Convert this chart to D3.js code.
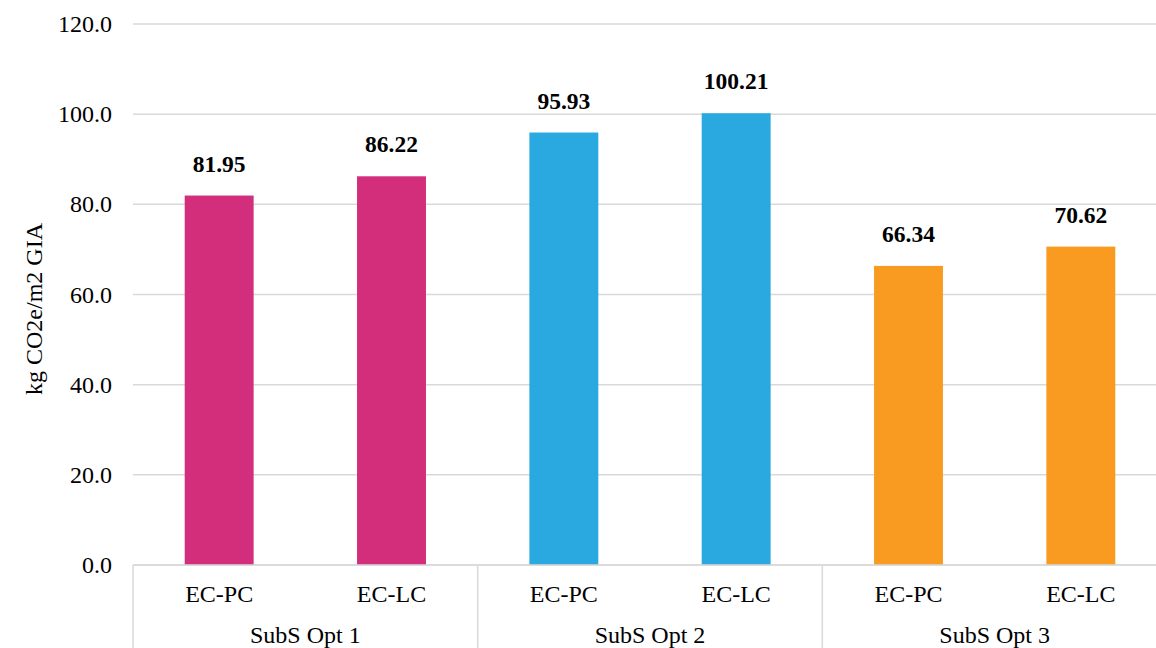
<!DOCTYPE html>
<html>
<head>
    <script src="https://cdnjs.cloudflare.com/ajax/libs/d3/7.8.5/d3.min.js"></script>
    <style>
        body { margin: 0; background: #fff; }
        svg text { font-family: 'Liberation Serif', 'Times New Roman', serif; fill: #000; }
        .grid line { stroke: #d9d9d9; stroke-width: 1.5px; }
        .val { font-weight: bold; }
    </style>
</head>
<body>
    <div id="chart"></div>
    <script>
        const groups = ["SubS Opt 1", "SubS Opt 2", "SubS Opt 3"];
        const types = ["EC-PC", "EC-LC"];
        const values = [81.95, 86.22, 95.93, 100.21, 66.34, 70.62];
        const colors = ["#d32e7b", "#29a9e0", "#f99b21"];
        const yTicks = [0, 20, 40, 60, 80, 100, 120];

        const width = 1156, height = 648;
        const mLeft = 133, mRight = 1167, mTop = 24, mBottom = 565;

        const rows = [];
        groups.forEach((g, gi) => types.forEach((t, ti) => {
            rows.push({ key: g + "|" + t, group: g, type: t, value: values[gi * 2 + ti], color: colors[gi] });
        }));

        const svg = d3.select("#chart").append("svg").attr("width", width).attr("height", height);

        const x = d3.scaleBand().domain(rows.map(d => d.key)).range([mLeft, mRight]).paddingInner(0.6).paddingOuter(0.3);
        const xg = d3.scaleBand().domain(groups).range([mLeft, mRight]);
        const y = d3.scaleLinear().domain([0, 120]).range([mBottom, mTop]);

        // gridlines
        svg.append("g").attr("class", "grid")
            .selectAll("line").data(yTicks).enter().append("line")
            .attr("x1", mLeft).attr("x2", mRight)
            .attr("y1", d => y(d)).attr("y2", d => y(d));

        // y tick labels
        svg.append("g").selectAll("text").data(yTicks).enter().append("text")
            .attr("x", 112).attr("y", d => y(d) + 8)
            .attr("text-anchor", "end").style("font-size", "24px")
            .text(d => d.toFixed(1));

        // bars
        svg.append("g").selectAll("rect").data(rows).enter().append("rect")
            .attr("x", d => x(d.key)).attr("width", x.bandwidth())
            .attr("y", d => y(d.value)).attr("height", d => y(0) - y(d.value))
            .attr("fill", d => d.color);

        // value labels
        svg.append("g").selectAll("text").data(rows).enter().append("text")
            .attr("class", "val")
            .attr("x", d => x(d.key) + x.bandwidth() / 2).attr("y", d => y(d.value) - 24)
            .attr("text-anchor", "middle").style("font-size", "23.5px")
            .text(d => d.value.toFixed(2));

        // category axis
        const ax = svg.append("g");
        ax.append("line").attr("x1", mLeft).attr("x2", mRight).attr("y1", mBottom).attr("y2", mBottom)
            .attr("stroke", "#d9d9d9").attr("stroke-width", 1.5);
        ax.selectAll("line.sep").data(groups.concat(["end"])).enter().append("line")
            .attr("class", "sep")
            .attr("x1", (d, i) => i < groups.length ? xg(d) : mRight)
            .attr("x2", (d, i) => i < groups.length ? xg(d) : mRight)
            .attr("y1", mBottom).attr("y2", height)
            .attr("stroke", "#d9d9d9").attr("stroke-width", 1.5);
        ax.selectAll("text.type").data(rows).enter().append("text")
            .attr("x", d => x(d.key) + x.bandwidth() / 2).attr("y", 602)
            .attr("text-anchor", "middle").style("font-size", "24px")
            .text(d => d.type);
        ax.selectAll("text.grp").data(groups).enter().append("text")
            .attr("x", d => xg(d) + xg.bandwidth() / 2).attr("y", 643)
            .attr("text-anchor", "middle").style("font-size", "24px")
            .text(d => d);

        // y axis title
        svg.append("text")
            .attr("transform", "translate(42,309) rotate(-90)")
            .attr("text-anchor", "middle").style("font-size", "24px")
            .text("kg CO2e/m2 GIA");
    </script>
</body>
</html>
